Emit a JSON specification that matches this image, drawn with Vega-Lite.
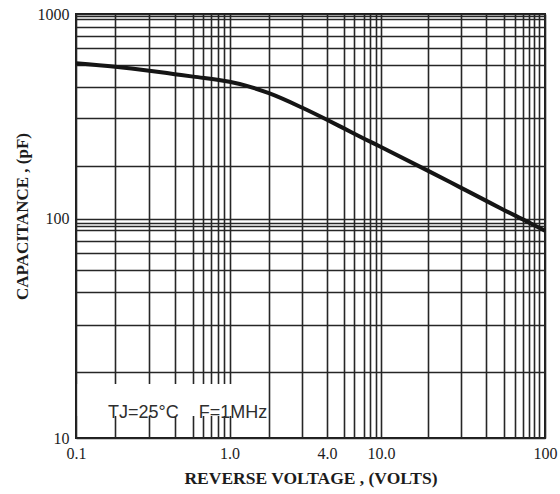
{
  "$schema": "https://vega.github.io/schema/vega-lite/v6.json",
  "width": 469,
  "height": 424,
  "autosize": "none",
  "padding": {"left": 76, "top": 14, "right": 15, "bottom": 56},
  "background": "white",
  "title": {
    "text": "TYPICAL JUNCTION CAPACITANCE",
    "font": "Liberation Serif",
    "fontWeight": "bold",
    "fontSize": 23,
    "color": "#2a2a2a",
    "baseline": "alphabetic",
    "anchor": "middle",
    "frame": "group",
    "offset": 11,
    "dx": -8
  },
  "config": {
    "view": {"stroke": "#1e1e1e", "strokeWidth": 2},
    "axis": {
      "grid": true,
      "gridColor": "#262626",
      "gridWidth": 1.6,
      "gridOpacity": 1,
      "ticks": false,
      "tickSize": 0,
      "domain": false,
      "labelFont": "Liberation Serif",
      "labelFontSize": 16,
      "labelColor": "#1c1c1c",
      "labelOverlap": false,
      "labelFlush": false,
      "labelBound": false,
      "titleFont": "Liberation Serif",
      "titleFontWeight": "bold",
      "titleColor": "#1c1c1c"
    }
  },
  "data": {
    "values": [
      {"volts": 0.1, "pf": 574},
      {"volts": 0.18, "pf": 552},
      {"volts": 0.3, "pf": 528},
      {"volts": 0.44, "pf": 508},
      {"volts": 0.58, "pf": 494},
      {"volts": 1.0, "pf": 466},
      {"volts": 1.3, "pf": 445},
      {"volts": 1.82, "pf": 410},
      {"volts": 3.0, "pf": 349},
      {"volts": 4.4, "pf": 304},
      {"volts": 5.74, "pf": 275},
      {"volts": 7.8, "pf": 245},
      {"volts": 9.85, "pf": 225},
      {"volts": 19.4, "pf": 171},
      {"volts": 30.4, "pf": 142},
      {"volts": 43, "pf": 123},
      {"volts": 55, "pf": 111},
      {"volts": 77.4, "pf": 97},
      {"volts": 100, "pf": 88}
    ]
  },
  "layer": [
    {
      "data": {"values": [{"note": "TJ=25°C\u00a0\u00a0\u00a0\u00a0F=1MHz"}]},
      "mark": {"type": "rect", "color": "white"},
      "encoding": {
        "x": {"datum": 0.1025, "type": "quantitative"},
        "x2": {"datum": 1.78},
        "y": {"datum": 12.6, "type": "quantitative"},
        "y2": {"datum": 17.6}
      }
    },
    {
      "mark": {"type": "line", "color": "#151515", "strokeWidth": 4, "interpolate": "monotone"},
      "encoding": {
        "x": {
          "field": "volts",
          "type": "quantitative",
          "scale": {"type": "log", "domain": [0.1, 1, 10, 100], "range": [0, 153.5, 305, 469], "nice": false},
          "axis": {
            "values": [0.1, 0.18, 0.3, 0.44, 0.58, 0.67, 0.76, 0.84, 0.92, 1, 1.82, 3.0, 4.4, 5.74, 6.59, 7.78, 8.46, 9.2, 10, 19.3, 30.6, 43.7, 56.2, 65.6, 73.8, 80.2, 86.1, 92.3, 100],
            "labelExpr": "datum.value == 0.1 ? '0.1' : datum.value == 1 ? '1.0' : datum.value == 4.4 ? '4.0' : datum.value == 10 ? '10.0' : datum.value == 100 ? '100' : ''",
            "labelPadding": 7,
            "encode": {
              "labels": {
                "update": {
                  "align": {"signal": "datum.value == 0.1 || datum.value == 10 ? 'left' : 'center'"},
                  "dx": {"signal": "datum.value == 100 ? -4 : datum.value == 10 ? -1 : datum.value == 4.4 ? 2 : 3"}
                }
              }
            },
            "title": "REVERSE VOLTAGE , (VOLTS)",
            "titleFontSize": 17.5,
            "titleBaseline": "top",
            "titleY": 31
          }
        },
        "y": {
          "field": "pf",
          "type": "quantitative",
          "scale": {"type": "log", "domain": [10, 100, 1000], "range": [424, 204.5, 0], "nice": false},
          "axis": {
            "values": [10, 20, 32.7, 46.3, 58.2, 69.7, 79, 88.6, 92.4, 95.7, 100, 181, 309, 441, 563, 680, 780, 867, 942, 973, 1000],
            "labelExpr": "datum.value == 1000 ? '1000' : datum.value == 100 ? '100' : datum.value == 10 ? '10' : ''",
            "labelPadding": 7,
            "title": "CAPACITANCE , (pF)",
            "titleFontSize": 17,
            "titleAngle": -90,
            "titleAlign": "center",
            "titleBaseline": "bottom",
            "titleX": -45,
            "titleY": 202
          }
        }
      }
    },
    {
      "data": {"values": [{"note": "TJ=25°C\u00a0\u00a0\u00a0\u00a0F=1MHz"}]},
      "mark": {"type": "text", "align": "left", "baseline": "alphabetic", "font": "Liberation Sans", "fontSize": 18, "color": "#2e2e2e"},
      "encoding": {
        "x": {"datum": 0.1616, "type": "quantitative"},
        "y": {"datum": 12.3, "type": "quantitative"},
        "text": {"field": "note"}
      }
    }
  ]
}
